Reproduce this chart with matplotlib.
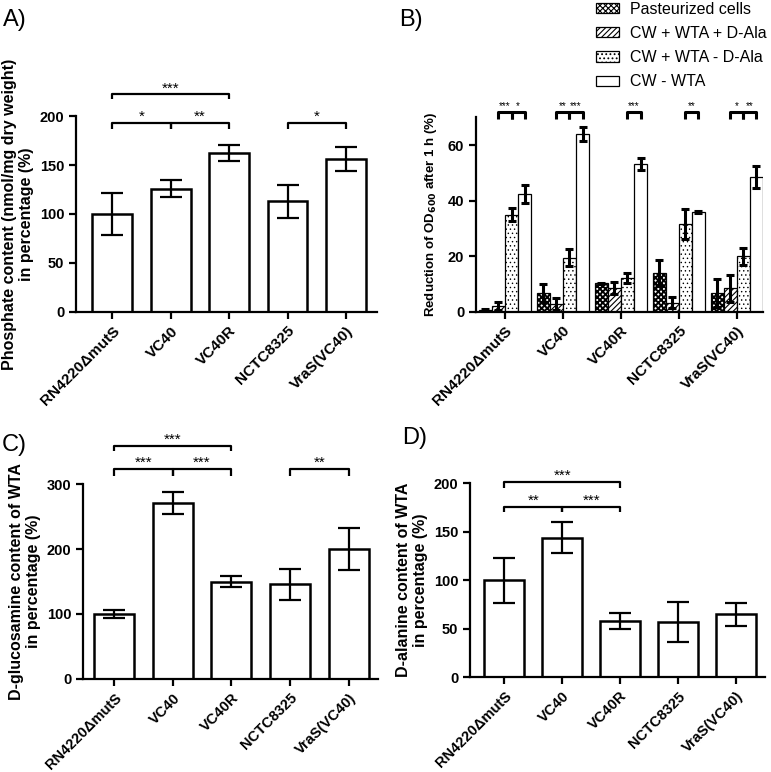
import numpy as np
import matplotlib.pyplot as plt

plt.rcParams['font.family'] = ['Liberation Sans', 'DejaVu Sans']
plt.rcParams['hatch.linewidth'] = 0.8

strains = ["RN4220\u0394mutS", "VC40", "VC40R", "NCTC8325", "VraS(VC40)"]

# panel A - phosphate content (%)
phosphate = [100, 126, 162, 113, 156]
phosphate_err = [21, 9, 8, 17, 12]

# panel B - reduction of OD600 after 1 h (%)
treatments = ["Pasteurized cells", "CW + WTA + D-Ala", "CW + WTA - D-Ala", "CW - WTA"]
pasteurized = [0.6, 6.7, 10.2, 14.0, 6.7]
pasteurized_err = [0.3, 3.2, 0.3, 4.5, 5.1]
wta_dala = [2.0, 2.9, 8.5, 3.3, 8.4]
wta_dala_err = [1.5, 2.2, 2.2, 2.0, 5.0]
wta_no_dala = [35.0, 19.5, 12.0, 31.5, 20.0]
wta_no_dala_err = [2.3, 3.2, 1.8, 5.4, 3.0]
cw_no_wta = [42.4, 64.0, 53.2, 36.0, 48.5]
cw_no_wta_err = [3.3, 2.6, 2.2, 0.4, 4.1]

# panel C - D-glucosamine content of WTA (%)
glucosamine = [100, 271, 150, 146, 200]
glucosamine_err = [6, 17, 9, 24, 32]

# panel D - D-alanine content of WTA (%)
alanine = [100, 144, 58, 57, 65]
alanine_err = [23, 16, 8, 21, 12]

# significance: (first, second, level, stars)
sig_a = [(0, 2, 'top', '***'), (0, 1, 'low', '*'), (1, 2, 'low', '**'), (3, 4, 'low', '*')]
sig_c = [(0, 2, 'top', '***'), (0, 1, 'low', '***'), (1, 2, 'low', '***'), (3, 4, 'low', '**')]
sig_d = [(0, 2, 'top', '***'), (0, 1, 'low', '**'), (1, 2, 'low', '***')]
# panel B: (group, bar1, bar2, stars)
sig_b = [(0, 1, 2, '***'), (0, 2, 3, '*'), (1, 1, 2, '**'), (1, 2, 3, '***'),
         (2, 2, 3, '***'), (3, 2, 3, '**'), (4, 1, 2, '*'), (4, 2, 3, '**')]

fig = plt.figure(figsize=(7.71, 7.72), dpi=100)


def style_axes(ax, ylim, yticks, xlim, xfs=11):
    ax.set_ylim(*ylim)
    ax.set_xlim(*xlim)
    ax.set_yticks(yticks)
    ax.spines['top'].set_visible(False)
    ax.spines['right'].set_visible(False)
    ax.spines['left'].set_linewidth(1.6)
    ax.spines['bottom'].set_linewidth(1.6)
    ax.tick_params(axis='both', width=1.6, length=5, direction='out')
    ax.set_xticks(range(len(strains)))
    ax.set_xticklabels(strains, rotation=45, ha='right', rotation_mode='anchor',
                       fontsize=xfs, fontweight='bold')
    for lab in ax.get_yticklabels():
        lab.set_fontweight('bold')
        lab.set_fontsize(10.5)


def bracket(ax, x1, x2, y, drop, text, fs=11, lw=1.6, off=1.5):
    ax.plot([x1, x1, x2, x2], [y - drop, y, y, y - drop], color='black',
            lw=lw, clip_on=False, solid_capstyle='butt')
    ax.annotate(text, xy=((x1 + x2) / 2, y), xytext=(0, off),
                textcoords='offset points', ha='center', va='baseline',
                fontsize=fs, annotation_clip=False)


def simple_panel(rect, vals, errs, ylim, yticks, xlim, ylabel, sig, levels, xfs=11):
    ax = fig.add_axes(rect)
    x = np.arange(len(vals))
    ax.bar(x, vals, width=0.68, color='white', edgecolor='black', linewidth=1.8, zorder=2)
    ax.errorbar(x, vals, yerr=errs, fmt='none', ecolor='black', elinewidth=1.6,
                capsize=8, capthick=1.6, zorder=3)
    style_axes(ax, ylim, yticks, xlim, xfs)
    ax.set_ylabel(ylabel, fontsize=11.5, fontweight='bold', labelpad=4)
    for i, j, lev, s in sig:
        y, drop = levels[lev]
        bracket(ax, i, j, y, drop, s)
    return ax


# A
simple_panel([0.0986, 0.5959, 0.3904, 0.2538], phosphate, phosphate_err,
             (0, 200), [0, 50, 100, 150, 200], (-0.62, 4.53),
             'Phosphate content (nmol/mg dry weight)\nin percentage (%)',
             sig_a, {'low': (193, 6), 'top': (222, 5)})

# C
simple_panel([0.1077, 0.1205, 0.3826, 0.2525], glucosamine, glucosamine_err,
             (0, 300), [0, 100, 200, 300], (-0.53, 4.5),
             'D-glucosamine content of WTA\nin percentage (%)',
             sig_c, {'low': (323, 10), 'top': (359, 8)}, xfs=10.5)

# D
simple_panel([0.6096, 0.1227, 0.3826, 0.2513], alanine, alanine_err,
             (0, 200), [0, 50, 100, 150, 200], (-0.59, 4.5),
             'D-alanine content of WTA\nin percentage (%)',
             sig_d, {'low': (176, 6), 'top': (201.4, 6)}, xfs=10.5)

# B
axb = fig.add_axes([0.6174, 0.5962, 0.3722, 0.2518])
series = [(pasteurized, pasteurized_err, 'xxxxxx', 1.4),
          (wta_dala, wta_dala_err, '//////', 0.8),
          (wta_no_dala, wta_no_dala_err, '....', 0.5),
          (cw_no_wta, cw_no_wta_err, '', 0.8)]
w = 0.225
xg = np.arange(len(strains))
for k, (vals, errs, hatch, hlw) in enumerate(series):
    xs = xg + (k - 1.5) * w
    with plt.rc_context({'hatch.linewidth': hlw}):
        axb.bar(xs, vals, width=w, color='white', edgecolor='black', linewidth=0.9,
                hatch=hatch, label=treatments[k], zorder=2)
    axb.errorbar(xs, vals, yerr=errs, fmt='none', ecolor='black', elinewidth=2.2,
                 capsize=3, capthick=2.2, zorder=3)
style_axes(axb, (0, 70), [0, 20, 40, 60], (-0.5, 4.45))
axb.set_ylabel('Reduction of OD$_{\\mathbf{600}}$ after 1 h (%)', fontsize=9.5,
               fontweight='bold', labelpad=6)
for g, b1, b2, s in sig_b:
    x1 = g + (b1 - 1.5) * w
    x2 = g + (b2 - 1.5) * w
    bracket(axb, x1, x2, 71.9, 2.6, s, fs=7, lw=2.2, off=2)

fig.legend(loc='upper left', bbox_to_anchor=(0.771, 1.0), frameon=False,
           fontsize=11.5, handlelength=1.45, handleheight=0.6, handletextpad=0.7,
           labelspacing=0.58, borderpad=0.1, borderaxespad=0)

# panel letters
fig.text(0.004, 0.988, 'A)', fontsize=17, va='top')
fig.text(0.518, 0.988, 'B)', fontsize=17, va='top')
fig.text(0.002, 0.438, 'C)', fontsize=17, va='top')
fig.text(0.522, 0.447, 'D)', fontsize=17, va='top')

fig.savefig('out.png', dpi=100)
